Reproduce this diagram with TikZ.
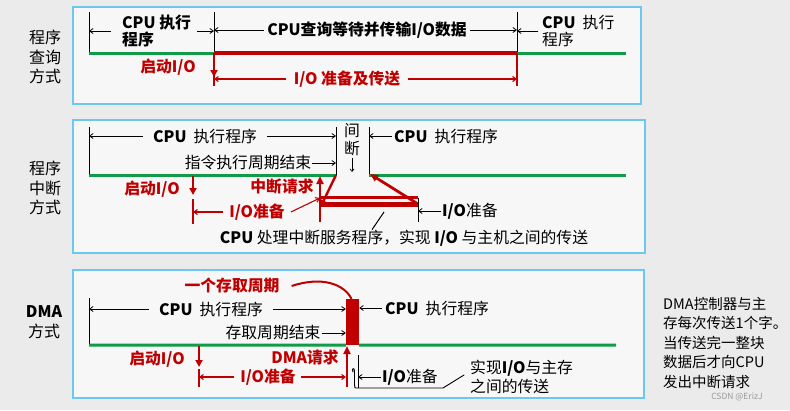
\documentclass[tikz,border=0pt]{standalone}
\usepackage{fontspec}
\setmainfont{Noto Sans CJK SC}
\usetikzlibrary{arrows.meta}
\definecolor{bgc}{HTML}{EBEBEB}
\definecolor{pfill}{HTML}{F7F7F7}
\definecolor{pline}{HTML}{6CC8F0}
\definecolor{myred}{HTML}{C00000}
\definecolor{mygreen}{HTML}{109B48}
\newcommand\fsA{\fontsize{15.8}{17}\selectfont}
\newcommand\fsL{\fontsize{16}{19.5}\selectfont}
\newcommand\fsN{\fontsize{14.5}{19.5}\selectfont}
\begin{document}
\begin{tikzpicture}[x=1pt,y=-1pt,
  panel/.style={draw=pline,line width=1.6,fill=pfill},
  tk/.style={draw=black,line width=1},
  gl/.style={draw=mygreen,line width=3},
  tx/.style={font=\fsA,inner sep=0,text=black},
  tb/.style={font=\fsA\bfseries,inner sep=0,text=black},
  rt/.style={font=\fsA\bfseries,inner sep=0,text=myred},
  lab/.style={font=\fsL,inner sep=0,align=center},
  bar/.style={-{Straight Barb[length=3.5pt,width=5pt]},line width=0.8,black},
  rar/.style={-{Straight Barb[length=3.5pt,width=5pt]},line width=1.1,myred},
  rdown/.style={-{Triangle[length=7pt,width=7pt]},line width=2.4,myred},
]
\fill[bgc] (0,0) rectangle (790,410);
\useasboundingbox (0,0) rectangle (790,410);
\draw[panel] (73,7) rectangle (641,104);
\draw[panel] (73,120) rectangle (645,253);
\draw[panel] (73,270) rectangle (644,398);

% ---------------- panel 1 ----------------
\node[lab] (L1) at (45,57) {程序\\查询\\方式};
\coordinate (A1t) at (89,12);  \coordinate (A1b) at (89,53);
\coordinate (A2t) at (214,12); \coordinate (A2b) at (214,53);
\coordinate (A2m) at (214,77); \coordinate (A2r) at (214,86);
\coordinate (A3t) at (517,12); \coordinate (A3b) at (517,53); \coordinate (A3r) at (517,86);
\coordinate (A4) at (626,53);
\draw[tk] (A1t)--(A1b); \draw[tk] (A2t)--(A2b); \draw[tk] (A3t)--(A3b);
\draw[gl] (A1b)--(A2b); \draw[gl] (A3b)--(A4);
\draw[myred,line width=4.5] (A2b)--(A3b);
\draw[myred,line width=1.5] (A2b)--(A2r);
\draw[rdown] (A2b)--(A2m);
\draw[myred,line width=1.5] (A3b)--(A3r);
\node[tb,anchor=west,align=left] (n1) at (122,31) {CPU 执行\\程序};
\draw[bar] ([xshift=-11pt]n1.west) -- (n1.west -| A1t);
\draw[bar] ([xshift=6pt]n1.east) -- (n1.east -| A2t);
\node[tb] (n2) at (367,30) {CPU查询等待并传输I/O数据};
\draw[bar] ([xshift=-3pt]n2.west) -- (n2.west -| A2t);
\draw[bar] ([xshift=3pt]n2.east) -- (n2.east -| A3t);
\node[tx,anchor=west,align=left] (n3) at (542,31) {{\bfseries CPU}\ \ 执行\\程序};
\draw[bar] ([xshift=-4pt]n3.west) -- (n3.west -| A3t);
\node[rt] (n4) at (168,67) {启动I/O};
\node[rt] (n5) at (347,79) {I/O 准备及传送};
\draw[rar] ([xshift=-8pt]n5.west) -- (n5.west -| A2t);
\draw[rar] ([xshift=8pt]n5.east) -- (n5.east -| A3t);

% ---------------- panel 2 ----------------
\node[lab] (L2) at (45,188) {程序\\中断\\方式};
\coordinate (Q1t) at (89,127);  \coordinate (Q1b) at (89,175);
\coordinate (Q2t) at (336,127); \coordinate (Q2b) at (336,175);
\coordinate (Q3t) at (369,127); \coordinate (Q3b) at (369,175);
\coordinate (Q4) at (626,175);
\draw[tk] (Q1t)--(Q1b); \draw[tk] (Q2t)--(Q2b); \draw[tk] (Q3t)--(Q3b);
\draw[gl] (Q1b)--(Q2b); \draw[gl] (Q3b)--(Q4);
\node[tx] (m1) at (205,136) {{\bfseries CPU}\ \ 执行程序};
\draw[bar] ([xshift=-10pt]m1.west) -- (m1.west -| Q1t);
\draw[bar] ([xshift=10pt]m1.east) -- (m1.east -| Q2t);
\node[tx,align=center,font=\fontsize{15.8}{18}\selectfont] (m2) at (352,140) {间\\断};
\coordinate (m2a) at (352,158); \coordinate (m2b) at (352,172);
\draw[-{Straight Barb[length=2.5pt,width=4pt]},line width=0.7] (m2a)--(m2b);
\node[tx,anchor=west] (m3) at (394,136) {{\bfseries CPU}\ \ 执行程序};
\draw[bar] ([xshift=-2pt]m3.west) -- (m3.west -| Q3t);
\node[tx] (m4) at (248,163) {指令执行周期结束};
\draw[bar] ([xshift=1pt]m4.east) -- (m4.east -| Q2t);
\node[rt] (m5) at (152,189) {启动I/O};
\node[rt] (m9) at (282,187) {中断请求};
\coordinate (S1a) at (193,176); \coordinate (S1m) at (193,195);
\coordinate (S1t) at (193,199); \coordinate (S1b) at (193,224);
\draw[rdown] (S1a)--(S1m);
\draw[myred,line width=1.5] (S1t)--(S1b);
\node[rt] (m6) at (257,212) {I/O准备};
\coordinate (S2t) at (320,176); \coordinate (S2m) at (320,204); \coordinate (S2b) at (320,222);
\coordinate (S3t) at (418,198); \coordinate (S3m) at (418,204); \coordinate (S3b) at (418,222);
\draw[rar] ([xshift=-6pt]m6.west) -- (m6.west -| S1t);
\draw[rar] ([xshift=6pt]m6.east) -- ([yshift=6pt]S2m);
\draw[myred,line width=1.5] (S2m)--(S2b);
\draw[myred,line width=2.2] ([yshift=6.5pt]S2m)--([yshift=6.5pt]S3m);
\draw[myred,line width=5] (S2m)--(S3m);
\draw[-{Triangle[length=8pt,width=7pt]},myred,line width=2.8] (S2m)--(S2t);
\draw[-{Triangle[length=6pt,width=5pt]},myred,line width=2.4] (Q2b)--([xshift=1pt,yshift=-2pt]S2m);
\draw[-{Triangle[length=8pt,width=7pt]},myred,line width=2.8] (S3m)--([xshift=1pt,yshift=1pt]Q3b);
\draw[tk] (S3t)--(S3b);
\node[tx,anchor=west] (m7) at (442,211) {{\bfseries I/O}准备};
\draw[bar] ([xshift=-1pt]m7.west) -- (m7.west -| S3t);
\node[tx] (m8) at (404,238) {{\bfseries CPU} 处理中断服务程序，实现 {\bfseries I/O} 与主机之间的传送};
\coordinate (m8p) at (384,212);
\draw[line width=1] ([xshift=-32pt]m8.north) -- (m8p);

% ---------------- panel 3 ----------------
\node[lab] (L3) at (44,322) {{\bfseries DMA}\\方式};
\node[rt] (k0) at (232,286) {一个存取周期};
\coordinate (U1t) at (89,298); \coordinate (U1b) at (89,345);
\node[fill=myred,inner sep=0,minimum width=13pt,minimum height=46pt] (blk) at (352.5,322) {};
\draw[myred,line width=2] ([xshift=12pt]k0.east) .. controls (322,276) and (344,284) .. ([xshift=-1pt]blk.north);
\coordinate (U5) at (616,345);
\draw[tk] (U1t)--(U1b);
\draw[gl] (U1b)--(blk.south west); \draw[gl] (blk.south east)--(U5);
\node[tx] (k1) at (211,309) {{\bfseries CPU}\ \ 执行程序};
\draw[bar] ([xshift=-10pt]k1.west) -- (k1.west -| U1t);
\draw[bar] ([xshift=10pt]k1.east) -- (k1.east -| blk.west);
\node[tx,anchor=west] (k2) at (385,308) {{\bfseries CPU}\ \ 执行程序};
\draw[bar] ([xshift=-3pt]k2.west) -- (k2.west -| blk.east);
\node[tx] (k3) at (273,333) {存取周期结束};
\draw[bar] ([xshift=1pt]k3.east) -- (k3.east -| blk.west);
\node[rt] (k4) at (157,359) {启动I/O};
\coordinate (V1a) at (199,346); \coordinate (V1m) at (199,367);
\coordinate (V1t) at (199,369); \coordinate (V1b) at (199,387);
\draw[rdown] (V1a)--(V1m);
\draw[myred,line width=1.5] (V1t)--(V1b);
\node[rt] (k5) at (268,377) {I/O准备};
\coordinate (V2b) at (347,387); \coordinate (V2t) at (347,346);
\draw[rar] ([xshift=-6pt]k5.west) -- (k5.west -| V1t);
\draw[rar] ([xshift=5pt]k5.east) -- ([xshift=-1pt]k5.east -| V2t);
\draw[-{Triangle[length=8pt,width=7pt]},myred,line width=2.6] (V2b)--(V2t);
\node[rt] (k6) at (305,357) {DMA请求};
\coordinate (W1) at (358,355); \coordinate (W2) at (358,388);
\draw[line width=0.9] (W1)--(W2);
\node[tx,anchor=west] (k7) at (382,377) {{\bfseries I/O}准备};
\draw[bar] ([xshift=-1pt]k7.west) -- (k7.west -| W1);
\node[tx,anchor=west,align=left,font=\fontsize{15.8}{19}\selectfont] (k8) at (470,377) {实现{\bfseries I/O}与主存\\之间的传送};
\coordinate (H1) at (353,372); \coordinate (H2) at (443,388);
\draw[line width=0.9,line cap=round] (H1) .. controls (351,368) and (355,367) .. (354.5,372) -- (354.5,385) .. controls (354.5,388) .. (358,388) -- (H2) -- ([xshift=-6pt,yshift=2pt]k8.west);

% ---------------- note ----------------
\node[font=\fsN,inner sep=0,anchor=west,align=left] (note) at (663,343)
  {DMA控制器与主\\存每次传送1个字。\\当传送完一整块\\数据后才向CPU\\发出中断请求};
\node[font=\fontsize{8.5}{10}\selectfont,text=black!40,inner sep=0] (wm) at (737,397) {CSDN @ErizJ};
\end{tikzpicture}
\end{document}
